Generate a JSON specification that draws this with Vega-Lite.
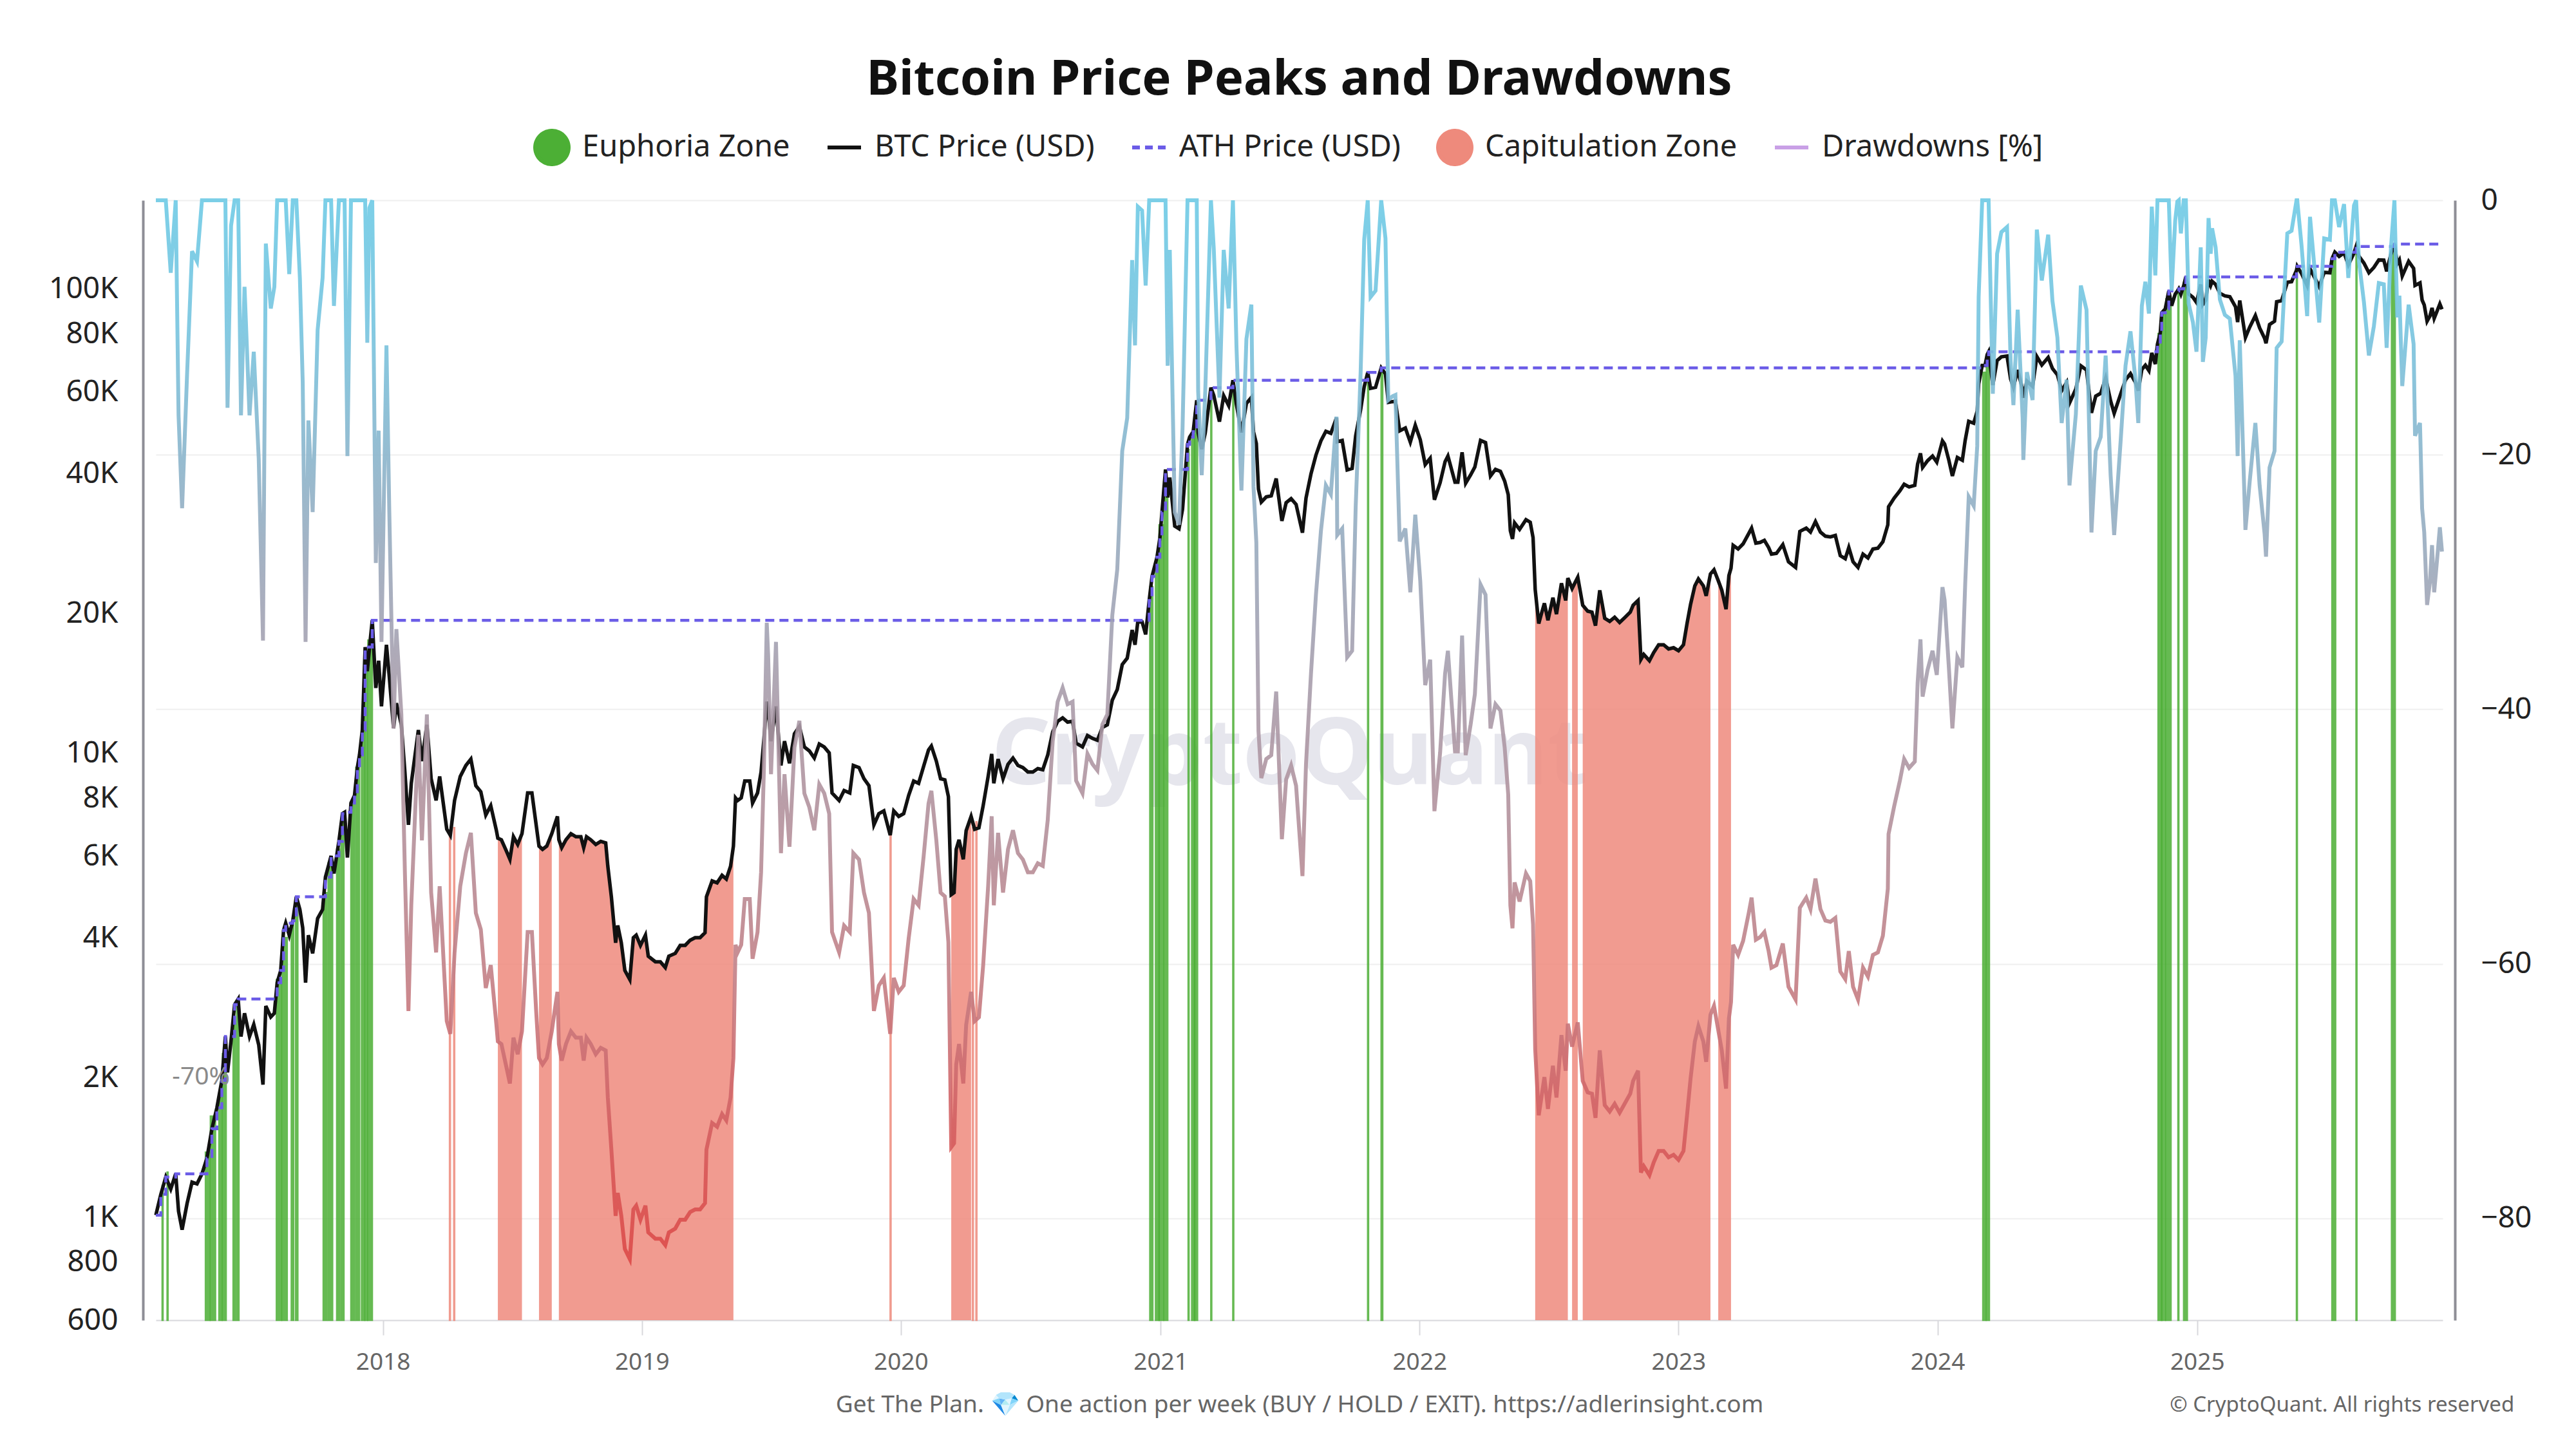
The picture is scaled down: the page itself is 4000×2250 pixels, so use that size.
{
"$schema": "https://vega.github.io/schema/vega-lite/v6.json",
"width": 3551, "height": 1739,
"autosize": {"type": "none"},
"padding": {"left": 242, "top": 311, "right": 207, "bottom": 200},
"background": "white",
"config": {"font": "Noto Sans", "view": {"stroke": null}},
"title": {"text": "Bitcoin Price Peaks and Drawdowns", "fontSize": 76, "fontWeight": "bold", "color": "#111111", "anchor": "middle", "frame": "group", "offset": 21},
"datasets": {
"btc": [
{"d":"2017-02-15","p":1010,"a":1010,"r":0},
{"d":"2017-02-22","p":1120,"a":1120,"r":0},
{"d":"2017-03-01","p":1220,"a":1220,"r":0},
{"d":"2017-03-08","p":1150,"a":1220,"r":-5.7},
{"d":"2017-03-15","p":1240,"a":1240,"r":0},
{"d":"2017-03-19","p":1030,"a":1240,"r":-16.9},
{"d":"2017-03-24","p":940,"a":1240,"r":-24.2},
{"d":"2017-03-31","p":1070,"a":1240,"r":-13.7},
{"d":"2017-04-07","p":1190,"a":1240,"r":-4},
{"d":"2017-04-14","p":1180,"a":1240,"r":-4.8},
{"d":"2017-04-21","p":1240,"a":1240,"r":0},
{"d":"2017-04-28","p":1340,"a":1340,"r":0},
{"d":"2017-05-05","p":1550,"a":1550,"r":0},
{"d":"2017-05-12","p":1720,"a":1720,"r":0},
{"d":"2017-05-19","p":1970,"a":1970,"r":0},
{"d":"2017-05-24","p":2450,"a":2450,"r":0},
{"d":"2017-05-27","p":2050,"a":2450,"r":-16.3},
{"d":"2017-06-01","p":2400,"a":2450,"r":-2},
{"d":"2017-06-06","p":2870,"a":2870,"r":0},
{"d":"2017-06-11","p":2950,"a":2950,"r":0},
{"d":"2017-06-15","p":2450,"a":2950,"r":-16.9},
{"d":"2017-06-20","p":2750,"a":2950,"r":-6.8},
{"d":"2017-06-27","p":2450,"a":2950,"r":-16.9},
{"d":"2017-07-03","p":2600,"a":2950,"r":-11.9},
{"d":"2017-07-10","p":2350,"a":2950,"r":-20.3},
{"d":"2017-07-16","p":1930,"a":2950,"r":-34.6},
{"d":"2017-07-20","p":2850,"a":2950,"r":-3.4},
{"d":"2017-07-27","p":2700,"a":2950,"r":-8.5},
{"d":"2017-08-01","p":2750,"a":2950,"r":-6.8},
{"d":"2017-08-05","p":3200,"a":3200,"r":0},
{"d":"2017-08-10","p":3400,"a":3400,"r":0},
{"d":"2017-08-14","p":4150,"a":4150,"r":0},
{"d":"2017-08-17","p":4300,"a":4300,"r":0},
{"d":"2017-08-22","p":4050,"a":4300,"r":-5.8},
{"d":"2017-08-27","p":4350,"a":4350,"r":0},
{"d":"2017-09-01","p":4900,"a":4900,"r":0},
{"d":"2017-09-06","p":4600,"a":4900,"r":-6.1},
{"d":"2017-09-10","p":4200,"a":4900,"r":-14.3},
{"d":"2017-09-14","p":3200,"a":4900,"r":-34.7},
{"d":"2017-09-18","p":4050,"a":4900,"r":-17.3},
{"d":"2017-09-24","p":3700,"a":4900,"r":-24.5},
{"d":"2017-10-01","p":4400,"a":4900,"r":-10.2},
{"d":"2017-10-08","p":4600,"a":4900,"r":-6.1},
{"d":"2017-10-12","p":5400,"a":5400,"r":0},
{"d":"2017-10-20","p":6000,"a":6000,"r":0},
{"d":"2017-10-24","p":5500,"a":6000,"r":-8.3},
{"d":"2017-10-31","p":6450,"a":6450,"r":0},
{"d":"2017-11-05","p":7400,"a":7400,"r":0},
{"d":"2017-11-08","p":7450,"a":7450,"r":0},
{"d":"2017-11-12","p":5950,"a":7450,"r":-20.1},
{"d":"2017-11-17","p":7800,"a":7800,"r":0},
{"d":"2017-11-22","p":8100,"a":8100,"r":0},
{"d":"2017-11-26","p":9300,"a":9300,"r":0},
{"d":"2017-11-29","p":9900,"a":9900,"r":0},
{"d":"2017-12-03","p":11200,"a":11200,"r":0},
{"d":"2017-12-07","p":16900,"a":16900,"r":0},
{"d":"2017-12-10","p":15000,"a":16900,"r":-11.2},
{"d":"2017-12-13","p":16800,"a":16900,"r":-0.6},
{"d":"2017-12-17","p":19300,"a":19300,"r":0},
{"d":"2017-12-22","p":13800,"a":19300,"r":-28.5},
{"d":"2017-12-26","p":15800,"a":19300,"r":-18.1},
{"d":"2017-12-30","p":12600,"a":19300,"r":-34.7},
{"d":"2018-01-06","p":17100,"a":19300,"r":-11.4},
{"d":"2018-01-10","p":14600,"a":19300,"r":-24.4},
{"d":"2018-01-16","p":11300,"a":19300,"r":-41.5},
{"d":"2018-01-20","p":12800,"a":19300,"r":-33.7},
{"d":"2018-01-27","p":11500,"a":19300,"r":-40.4},
{"d":"2018-02-01","p":9100,"a":19300,"r":-52.8},
{"d":"2018-02-06","p":7000,"a":19300,"r":-63.7},
{"d":"2018-02-10","p":8600,"a":19300,"r":-55.4},
{"d":"2018-02-20","p":11200,"a":19300,"r":-42},
{"d":"2018-02-25","p":9600,"a":19300,"r":-50.3},
{"d":"2018-03-04","p":11500,"a":19300,"r":-40.4},
{"d":"2018-03-10","p":8800,"a":19300,"r":-54.4},
{"d":"2018-03-17","p":7900,"a":19300,"r":-59.1},
{"d":"2018-03-22","p":8900,"a":19300,"r":-53.9},
{"d":"2018-04-01","p":6850,"a":19300,"r":-64.5},
{"d":"2018-04-06","p":6650,"a":19300,"r":-65.5},
{"d":"2018-04-12","p":7900,"a":19300,"r":-59.1},
{"d":"2018-04-20","p":8900,"a":19300,"r":-53.9},
{"d":"2018-04-28","p":9400,"a":19300,"r":-51.3},
{"d":"2018-05-05","p":9700,"a":19300,"r":-49.7},
{"d":"2018-05-12","p":8500,"a":19300,"r":-56},
{"d":"2018-05-19","p":8250,"a":19300,"r":-57.3},
{"d":"2018-05-26","p":7350,"a":19300,"r":-61.9},
{"d":"2018-06-02","p":7700,"a":19300,"r":-60.1},
{"d":"2018-06-10","p":6800,"a":19300,"r":-64.8},
{"d":"2018-06-12","p":6550,"a":19300,"r":-66.1,"c":"c1"},
{"d":"2018-06-17","p":6500,"a":19300,"r":-66.3,"c":"c1"},
{"d":"2018-06-24","p":6150,"a":19300,"r":-68.1,"c":"c1"},
{"d":"2018-06-29","p":5900,"a":19300,"r":-69.4,"c":"c1"},
{"d":"2018-07-04","p":6600,"a":19300,"r":-65.8,"c":"c1"},
{"d":"2018-07-10","p":6350,"a":19300,"r":-67.1,"c":"c1"},
{"d":"2018-07-16","p":6700,"a":19300,"r":-65.3,"c":"c1"},
{"d":"2018-07-24","p":8200,"a":19300,"r":-57.5},
{"d":"2018-07-30","p":8200,"a":19300,"r":-57.5},
{"d":"2018-08-05","p":7000,"a":19300,"r":-63.7},
{"d":"2018-08-09","p":6300,"a":19300,"r":-67.4,"c":"c2"},
{"d":"2018-08-14","p":6200,"a":19300,"r":-67.9,"c":"c2"},
{"d":"2018-08-20","p":6300,"a":19300,"r":-67.4,"c":"c2"},
{"d":"2018-08-27","p":6700,"a":19300,"r":-65.3,"c":"c2"},
{"d":"2018-08-31","p":7000,"a":19300,"r":-63.7},
{"d":"2018-09-04","p":7300,"a":19300,"r":-62.2},
{"d":"2018-09-06","p":6500,"a":19300,"r":-66.3,"c":"c3"},
{"d":"2018-09-10","p":6250,"a":19300,"r":-67.6,"c":"c3"},
{"d":"2018-09-16","p":6500,"a":19300,"r":-66.3,"c":"c3"},
{"d":"2018-09-23","p":6700,"a":19300,"r":-65.3,"c":"c3"},
{"d":"2018-09-30","p":6600,"a":19300,"r":-65.8,"c":"c3"},
{"d":"2018-10-07","p":6600,"a":19300,"r":-65.8,"c":"c3"},
{"d":"2018-10-11","p":6250,"a":19300,"r":-67.6,"c":"c3"},
{"d":"2018-10-15","p":6600,"a":19300,"r":-65.8,"c":"c3"},
{"d":"2018-10-21","p":6500,"a":19300,"r":-66.3,"c":"c3"},
{"d":"2018-10-28","p":6350,"a":19300,"r":-67.1,"c":"c3"},
{"d":"2018-11-04","p":6450,"a":19300,"r":-66.6,"c":"c3"},
{"d":"2018-11-11","p":6400,"a":19300,"r":-66.8,"c":"c3"},
{"d":"2018-11-14","p":5700,"a":19300,"r":-70.5,"c":"c3"},
{"d":"2018-11-19","p":4900,"a":19300,"r":-74.6,"c":"c3"},
{"d":"2018-11-25","p":3900,"a":19300,"r":-79.8,"c":"c3"},
{"d":"2018-11-28","p":4250,"a":19300,"r":-78,"c":"c3"},
{"d":"2018-12-03","p":3900,"a":19300,"r":-79.8,"c":"c3"},
{"d":"2018-12-08","p":3400,"a":19300,"r":-82.4,"c":"c3"},
{"d":"2018-12-15","p":3250,"a":19300,"r":-83.2,"c":"c3"},
{"d":"2018-12-20","p":4000,"a":19300,"r":-79.3,"c":"c3"},
{"d":"2018-12-24","p":4050,"a":19300,"r":-79,"c":"c3"},
{"d":"2018-12-30","p":3850,"a":19300,"r":-80.1,"c":"c3"},
{"d":"2019-01-06","p":4050,"a":19300,"r":-79,"c":"c3"},
{"d":"2019-01-10","p":3650,"a":19300,"r":-81.1,"c":"c3"},
{"d":"2019-01-20","p":3550,"a":19300,"r":-81.6,"c":"c3"},
{"d":"2019-01-27","p":3550,"a":19300,"r":-81.6,"c":"c3"},
{"d":"2019-02-03","p":3450,"a":19300,"r":-82.1,"c":"c3"},
{"d":"2019-02-08","p":3650,"a":19300,"r":-81.1,"c":"c3"},
{"d":"2019-02-17","p":3700,"a":19300,"r":-80.8,"c":"c3"},
{"d":"2019-02-24","p":3850,"a":19300,"r":-80.1,"c":"c3"},
{"d":"2019-03-03","p":3850,"a":19300,"r":-80.1,"c":"c3"},
{"d":"2019-03-10","p":3950,"a":19300,"r":-79.5,"c":"c3"},
{"d":"2019-03-17","p":4000,"a":19300,"r":-79.3,"c":"c3"},
{"d":"2019-03-24","p":4000,"a":19300,"r":-79.3,"c":"c3"},
{"d":"2019-03-31","p":4100,"a":19300,"r":-78.8,"c":"c3"},
{"d":"2019-04-02","p":4900,"a":19300,"r":-74.6,"c":"c3"},
{"d":"2019-04-10","p":5300,"a":19300,"r":-72.5,"c":"c3"},
{"d":"2019-04-17","p":5250,"a":19300,"r":-72.8,"c":"c3"},
{"d":"2019-04-24","p":5450,"a":19300,"r":-71.8,"c":"c3"},
{"d":"2019-04-30","p":5350,"a":19300,"r":-72.3,"c":"c3"},
{"d":"2019-05-06","p":5700,"a":19300,"r":-70.5,"c":"c3"},
{"d":"2019-05-10","p":6300,"a":19300,"r":-67.4,"c":"c3"},
{"d":"2019-05-13","p":8000,"a":19300,"r":-58.5},
{"d":"2019-05-16","p":7900,"a":19300,"r":-59.1},
{"d":"2019-05-21","p":8000,"a":19300,"r":-58.5},
{"d":"2019-05-26","p":8700,"a":19300,"r":-54.9},
{"d":"2019-06-02","p":8700,"a":19300,"r":-54.9},
{"d":"2019-06-06","p":7800,"a":19300,"r":-59.6},
{"d":"2019-06-13","p":8200,"a":19300,"r":-57.5},
{"d":"2019-06-18","p":9100,"a":19300,"r":-52.8},
{"d":"2019-06-22","p":10700,"a":19300,"r":-44.6},
{"d":"2019-06-26","p":12900,"a":19300,"r":-33.2},
{"d":"2019-06-28","p":12400,"a":19300,"r":-35.8},
{"d":"2019-07-02","p":10600,"a":19300,"r":-45.1},
{"d":"2019-07-09","p":12600,"a":19300,"r":-34.7},
{"d":"2019-07-16","p":9400,"a":19300,"r":-51.3},
{"d":"2019-07-21","p":10600,"a":19300,"r":-45.1},
{"d":"2019-07-28","p":9500,"a":19300,"r":-50.8},
{"d":"2019-08-04","p":11000,"a":19300,"r":-43},
{"d":"2019-08-11","p":11400,"a":19300,"r":-40.9},
{"d":"2019-08-18","p":10300,"a":19300,"r":-46.6},
{"d":"2019-08-25","p":10100,"a":19300,"r":-47.7},
{"d":"2019-09-01","p":9750,"a":19300,"r":-49.5},
{"d":"2019-09-08","p":10450,"a":19300,"r":-45.9},
{"d":"2019-09-15","p":10300,"a":19300,"r":-46.6},
{"d":"2019-09-22","p":10000,"a":19300,"r":-48.2},
{"d":"2019-09-26","p":8200,"a":19300,"r":-57.5},
{"d":"2019-10-06","p":7900,"a":19300,"r":-59.1},
{"d":"2019-10-13","p":8300,"a":19300,"r":-57},
{"d":"2019-10-21","p":8200,"a":19300,"r":-57.5},
{"d":"2019-10-26","p":9400,"a":19300,"r":-51.3},
{"d":"2019-11-03","p":9300,"a":19300,"r":-51.8},
{"d":"2019-11-10","p":8800,"a":19300,"r":-54.4},
{"d":"2019-11-17","p":8500,"a":19300,"r":-56},
{"d":"2019-11-24","p":7000,"a":19300,"r":-63.7},
{"d":"2019-12-01","p":7400,"a":19300,"r":-61.7},
{"d":"2019-12-08","p":7500,"a":19300,"r":-61.1},
{"d":"2019-12-17","p":6650,"a":19300,"r":-65.5},
{"d":"2019-12-22","p":7500,"a":19300,"r":-61.1},
{"d":"2019-12-29","p":7300,"a":19300,"r":-62.2},
{"d":"2020-01-05","p":7400,"a":19300,"r":-61.7},
{"d":"2020-01-12","p":8100,"a":19300,"r":-58},
{"d":"2020-01-19","p":8700,"a":19300,"r":-54.9},
{"d":"2020-01-26","p":8600,"a":19300,"r":-55.4},
{"d":"2020-02-02","p":9350,"a":19300,"r":-51.6},
{"d":"2020-02-09","p":10150,"a":19300,"r":-47.4},
{"d":"2020-02-13","p":10350,"a":19300,"r":-46.4},
{"d":"2020-02-20","p":9600,"a":19300,"r":-50.3},
{"d":"2020-02-26","p":8800,"a":19300,"r":-54.4},
{"d":"2020-03-03","p":8750,"a":19300,"r":-54.7},
{"d":"2020-03-08","p":8050,"a":19300,"r":-58.3},
{"d":"2020-03-12","p":4950,"a":19300,"r":-74.4,"c":"c4"},
{"d":"2020-03-16","p":5000,"a":19300,"r":-74.1,"c":"c4"},
{"d":"2020-03-19","p":6200,"a":19300,"r":-67.9,"c":"c4"},
{"d":"2020-03-23","p":6500,"a":19300,"r":-66.3,"c":"c4"},
{"d":"2020-03-29","p":5900,"a":19300,"r":-69.4,"c":"c4"},
{"d":"2020-04-02","p":6800,"a":19300,"r":-64.8,"c":"c4"},
{"d":"2020-04-09","p":7300,"a":19300,"r":-62.2,"c":"c4"},
{"d":"2020-04-14","p":6850,"a":19300,"r":-64.5},
{"d":"2020-04-20","p":6900,"a":19300,"r":-64.2},
{"d":"2020-04-26","p":7700,"a":19300,"r":-60.1},
{"d":"2020-05-03","p":8900,"a":19300,"r":-53.9},
{"d":"2020-05-08","p":9950,"a":19300,"r":-48.4},
{"d":"2020-05-11","p":8600,"a":19300,"r":-55.4},
{"d":"2020-05-17","p":9700,"a":19300,"r":-49.7},
{"d":"2020-05-24","p":8800,"a":19300,"r":-54.4},
{"d":"2020-05-31","p":9450,"a":19300,"r":-51},
{"d":"2020-06-07","p":9750,"a":19300,"r":-49.5},
{"d":"2020-06-14","p":9400,"a":19300,"r":-51.3},
{"d":"2020-06-21","p":9300,"a":19300,"r":-51.8},
{"d":"2020-06-28","p":9100,"a":19300,"r":-52.8},
{"d":"2020-07-05","p":9100,"a":19300,"r":-52.8},
{"d":"2020-07-12","p":9250,"a":19300,"r":-52.1},
{"d":"2020-07-19","p":9200,"a":19300,"r":-52.3},
{"d":"2020-07-26","p":9900,"a":19300,"r":-48.7},
{"d":"2020-08-02","p":11100,"a":19300,"r":-42.5},
{"d":"2020-08-09","p":11700,"a":19300,"r":-39.4},
{"d":"2020-08-16","p":11900,"a":19300,"r":-38.3},
{"d":"2020-08-23","p":11650,"a":19300,"r":-39.6},
{"d":"2020-08-30","p":11700,"a":19300,"r":-39.4},
{"d":"2020-09-04","p":10500,"a":19300,"r":-45.6},
{"d":"2020-09-13","p":10300,"a":19300,"r":-46.6},
{"d":"2020-09-20","p":10900,"a":19300,"r":-43.5},
{"d":"2020-09-27","p":10750,"a":19300,"r":-44.3},
{"d":"2020-10-04","p":10650,"a":19300,"r":-44.8},
{"d":"2020-10-11","p":11350,"a":19300,"r":-41.2},
{"d":"2020-10-18","p":11500,"a":19300,"r":-40.4},
{"d":"2020-10-25","p":13000,"a":19300,"r":-32.6},
{"d":"2020-11-01","p":13700,"a":19300,"r":-29},
{"d":"2020-11-08","p":15500,"a":19300,"r":-19.7},
{"d":"2020-11-15","p":16000,"a":19300,"r":-17.1},
{"d":"2020-11-22","p":18400,"a":19300,"r":-4.7},
{"d":"2020-11-26","p":17100,"a":19300,"r":-11.4},
{"d":"2020-11-30","p":19200,"a":19300,"r":-0.5},
{"d":"2020-12-06","p":19150,"a":19300,"r":-0.8},
{"d":"2020-12-11","p":18000,"a":19300,"r":-6.7},
{"d":"2020-12-16","p":21300,"a":21300,"r":0},
{"d":"2020-12-20","p":24000,"a":24000,"r":0},
{"d":"2020-12-27","p":26400,"a":26400,"r":0},
{"d":"2020-12-31","p":29000,"a":29000,"r":0},
{"d":"2021-01-03","p":33000,"a":33000,"r":0},
{"d":"2021-01-08","p":40800,"a":40800,"r":0},
{"d":"2021-01-11","p":35500,"a":40800,"r":-13},
{"d":"2021-01-14","p":39200,"a":40800,"r":-3.9},
{"d":"2021-01-21","p":30800,"a":40800,"r":-24.5},
{"d":"2021-01-27","p":30400,"a":40800,"r":-25.5},
{"d":"2021-02-01","p":33500,"a":40800,"r":-17.9},
{"d":"2021-02-08","p":46200,"a":46200,"r":0},
{"d":"2021-02-11","p":47900,"a":47900,"r":0},
{"d":"2021-02-16","p":49200,"a":49200,"r":0},
{"d":"2021-02-21","p":57500,"a":57500,"r":0},
{"d":"2021-02-23","p":48900,"a":57500,"r":-15},
{"d":"2021-02-28","p":45100,"a":57500,"r":-21.6},
{"d":"2021-03-05","p":48900,"a":57500,"r":-15},
{"d":"2021-03-13","p":61200,"a":61200,"r":0},
{"d":"2021-03-17","p":58900,"a":61200,"r":-3.8},
{"d":"2021-03-25","p":51700,"a":61200,"r":-15.5},
{"d":"2021-03-31","p":58800,"a":61200,"r":-3.9},
{"d":"2021-04-07","p":56000,"a":61200,"r":-8.5},
{"d":"2021-04-13","p":63500,"a":63500,"r":0},
{"d":"2021-04-18","p":56200,"a":63500,"r":-11.5},
{"d":"2021-04-25","p":49000,"a":63500,"r":-22.8},
{"d":"2021-05-02","p":56600,"a":63500,"r":-10.9},
{"d":"2021-05-09","p":58300,"a":63500,"r":-8.2},
{"d":"2021-05-12","p":49200,"a":63500,"r":-22.5},
{"d":"2021-05-16","p":46400,"a":63500,"r":-26.9},
{"d":"2021-05-19","p":37000,"a":63500,"r":-41.7},
{"d":"2021-05-23","p":34700,"a":63500,"r":-45.4},
{"d":"2021-05-30","p":35600,"a":63500,"r":-43.9},
{"d":"2021-06-06","p":35800,"a":63500,"r":-43.6},
{"d":"2021-06-13","p":39000,"a":63500,"r":-38.6},
{"d":"2021-06-21","p":31600,"a":63500,"r":-50.2},
{"d":"2021-06-27","p":34600,"a":63500,"r":-45.5},
{"d":"2021-07-04","p":35300,"a":63500,"r":-44.4},
{"d":"2021-07-11","p":34300,"a":63500,"r":-46},
{"d":"2021-07-20","p":29800,"a":63500,"r":-53.1},
{"d":"2021-07-25","p":35400,"a":63500,"r":-44.3},
{"d":"2021-08-01","p":39900,"a":63500,"r":-37.2},
{"d":"2021-08-08","p":43800,"a":63500,"r":-31},
{"d":"2021-08-15","p":47000,"a":63500,"r":-26},
{"d":"2021-08-22","p":49300,"a":63500,"r":-22.4},
{"d":"2021-08-29","p":48800,"a":63500,"r":-23.1},
{"d":"2021-09-06","p":52700,"a":63500,"r":-17},
{"d":"2021-09-07","p":46800,"a":63500,"r":-26.3},
{"d":"2021-09-14","p":47100,"a":63500,"r":-25.8},
{"d":"2021-09-21","p":40700,"a":63500,"r":-35.9},
{"d":"2021-09-28","p":41000,"a":63500,"r":-35.4},
{"d":"2021-10-03","p":48200,"a":63500,"r":-24.1},
{"d":"2021-10-10","p":54900,"a":63500,"r":-13.5},
{"d":"2021-10-15","p":61500,"a":63500,"r":-3.1},
{"d":"2021-10-20","p":66000,"a":66000,"r":0},
{"d":"2021-10-24","p":61000,"a":66000,"r":-7.6},
{"d":"2021-10-31","p":61300,"a":66000,"r":-7.1},
{"d":"2021-11-08","p":67500,"a":67500,"r":0},
{"d":"2021-11-14","p":65500,"a":67500,"r":-3},
{"d":"2021-11-18","p":56900,"a":67500,"r":-15.7},
{"d":"2021-11-24","p":57100,"a":67500,"r":-15.4},
{"d":"2021-11-28","p":57200,"a":67500,"r":-15.3},
{"d":"2021-12-04","p":49400,"a":67500,"r":-26.8},
{"d":"2021-12-12","p":50100,"a":67500,"r":-25.8},
{"d":"2021-12-19","p":46700,"a":67500,"r":-30.8},
{"d":"2021-12-26","p":50800,"a":67500,"r":-24.7},
{"d":"2022-01-02","p":47300,"a":67500,"r":-29.9},
{"d":"2022-01-09","p":41800,"a":67500,"r":-38.1},
{"d":"2022-01-16","p":43100,"a":67500,"r":-36.1},
{"d":"2022-01-22","p":35100,"a":67500,"r":-48},
{"d":"2022-01-30","p":38200,"a":67500,"r":-43.4},
{"d":"2022-02-06","p":42400,"a":67500,"r":-37.2},
{"d":"2022-02-10","p":43600,"a":67500,"r":-35.4},
{"d":"2022-02-20","p":38300,"a":67500,"r":-43.3},
{"d":"2022-02-24","p":38300,"a":67500,"r":-43.3},
{"d":"2022-03-02","p":44400,"a":67500,"r":-34.2},
{"d":"2022-03-07","p":38100,"a":67500,"r":-43.6},
{"d":"2022-03-14","p":39700,"a":67500,"r":-41.2},
{"d":"2022-03-20","p":41300,"a":67500,"r":-38.8},
{"d":"2022-03-28","p":47100,"a":67500,"r":-30.2},
{"d":"2022-04-04","p":46600,"a":67500,"r":-31},
{"d":"2022-04-11","p":39500,"a":67500,"r":-41.5},
{"d":"2022-04-18","p":40800,"a":67500,"r":-39.6},
{"d":"2022-04-25","p":40400,"a":67500,"r":-40.1},
{"d":"2022-05-01","p":38500,"a":67500,"r":-43},
{"d":"2022-05-06","p":36000,"a":67500,"r":-46.7},
{"d":"2022-05-09","p":30100,"a":67500,"r":-55.4},
{"d":"2022-05-12","p":28900,"a":67500,"r":-57.2},
{"d":"2022-05-15","p":31300,"a":67500,"r":-53.6},
{"d":"2022-05-22","p":30300,"a":67500,"r":-55.1},
{"d":"2022-05-31","p":31800,"a":67500,"r":-52.9},
{"d":"2022-06-06","p":31400,"a":67500,"r":-53.5},
{"d":"2022-06-10","p":29100,"a":67500,"r":-56.9},
{"d":"2022-06-13","p":22500,"a":67500,"r":-66.7,"c":"c5"},
{"d":"2022-06-18","p":19000,"a":67500,"r":-71.9,"c":"c5"},
{"d":"2022-06-22","p":20000,"a":67500,"r":-70.4,"c":"c5"},
{"d":"2022-06-26","p":21000,"a":67500,"r":-68.9,"c":"c5"},
{"d":"2022-07-01","p":19300,"a":67500,"r":-71.4,"c":"c5"},
{"d":"2022-07-08","p":21600,"a":67500,"r":-68,"c":"c5"},
{"d":"2022-07-13","p":19900,"a":67500,"r":-70.5,"c":"c5"},
{"d":"2022-07-20","p":23200,"a":67500,"r":-65.6,"c":"c5"},
{"d":"2022-07-26","p":21300,"a":67500,"r":-68.4,"c":"c5"},
{"d":"2022-07-29","p":23800,"a":67500,"r":-64.7,"c":"c5"},
{"d":"2022-08-04","p":22600,"a":67500,"r":-66.5,"c":"c6"},
{"d":"2022-08-12","p":23900,"a":67500,"r":-64.6,"c":"c6"},
{"d":"2022-08-19","p":20800,"a":67500,"r":-69.2,"c":"c7"},
{"d":"2022-08-26","p":20200,"a":67500,"r":-70.1,"c":"c7"},
{"d":"2022-09-01","p":20100,"a":67500,"r":-70.2,"c":"c7"},
{"d":"2022-09-06","p":18800,"a":67500,"r":-72.1,"c":"c7"},
{"d":"2022-09-12","p":22400,"a":67500,"r":-66.8,"c":"c7"},
{"d":"2022-09-19","p":19500,"a":67500,"r":-71.1,"c":"c7"},
{"d":"2022-09-26","p":19200,"a":67500,"r":-71.6,"c":"c7"},
{"d":"2022-10-03","p":19600,"a":67500,"r":-71,"c":"c7"},
{"d":"2022-10-10","p":19100,"a":67500,"r":-71.7,"c":"c7"},
{"d":"2022-10-17","p":19550,"a":67500,"r":-71,"c":"c7"},
{"d":"2022-10-25","p":20100,"a":67500,"r":-70.2,"c":"c7"},
{"d":"2022-10-29","p":20800,"a":67500,"r":-69.2,"c":"c7"},
{"d":"2022-11-05","p":21300,"a":67500,"r":-68.4,"c":"c7"},
{"d":"2022-11-09","p":15900,"a":67500,"r":-76.4,"c":"c7"},
{"d":"2022-11-13","p":16300,"a":67500,"r":-75.9,"c":"c7"},
{"d":"2022-11-21","p":15800,"a":67500,"r":-76.6,"c":"c7"},
{"d":"2022-11-27","p":16450,"a":67500,"r":-75.6,"c":"c7"},
{"d":"2022-12-04","p":17100,"a":67500,"r":-74.7,"c":"c7"},
{"d":"2022-12-11","p":17100,"a":67500,"r":-74.7,"c":"c7"},
{"d":"2022-12-18","p":16750,"a":67500,"r":-75.2,"c":"c7"},
{"d":"2022-12-25","p":16850,"a":67500,"r":-75,"c":"c7"},
{"d":"2023-01-01","p":16600,"a":67500,"r":-75.4,"c":"c7"},
{"d":"2023-01-08","p":17100,"a":67500,"r":-74.7,"c":"c7"},
{"d":"2023-01-13","p":19000,"a":67500,"r":-71.9,"c":"c7"},
{"d":"2023-01-18","p":20900,"a":67500,"r":-69,"c":"c7"},
{"d":"2023-01-24","p":22900,"a":67500,"r":-66.1,"c":"c7"},
{"d":"2023-01-29","p":23700,"a":67500,"r":-64.9,"c":"c7"},
{"d":"2023-02-05","p":22900,"a":67500,"r":-66.1,"c":"c7"},
{"d":"2023-02-09","p":21800,"a":67500,"r":-67.7,"c":"c7"},
{"d":"2023-02-15","p":24300,"a":67500,"r":-64,"c":"c7"},
{"d":"2023-02-20","p":24800,"a":67500,"r":-63.3},
{"d":"2023-02-26","p":23500,"a":67500,"r":-65.2,"c":"c8"},
{"d":"2023-03-03","p":22400,"a":67500,"r":-66.8,"c":"c8"},
{"d":"2023-03-09","p":20400,"a":67500,"r":-69.8,"c":"c8"},
{"d":"2023-03-13","p":24100,"a":67500,"r":-64.3,"c":"c8"},
{"d":"2023-03-16","p":25000,"a":67500,"r":-63,"c":"c8"},
{"d":"2023-03-19","p":28000,"a":67500,"r":-58.5},
{"d":"2023-03-26","p":27500,"a":67500,"r":-59.3},
{"d":"2023-04-02","p":28200,"a":67500,"r":-58.2},
{"d":"2023-04-10","p":29700,"a":67500,"r":-56},
{"d":"2023-04-14","p":30500,"a":67500,"r":-54.8},
{"d":"2023-04-20","p":28300,"a":67500,"r":-58.1},
{"d":"2023-04-26","p":28400,"a":67500,"r":-57.9},
{"d":"2023-05-02","p":28700,"a":67500,"r":-57.5},
{"d":"2023-05-08","p":27700,"a":67500,"r":-59},
{"d":"2023-05-12","p":26800,"a":67500,"r":-60.3},
{"d":"2023-05-19","p":26900,"a":67500,"r":-60.1},
{"d":"2023-05-28","p":28100,"a":67500,"r":-58.4},
{"d":"2023-06-05","p":25800,"a":67500,"r":-61.8},
{"d":"2023-06-15","p":25100,"a":67500,"r":-62.8},
{"d":"2023-06-21","p":30000,"a":67500,"r":-55.6},
{"d":"2023-06-30","p":30500,"a":67500,"r":-54.8},
{"d":"2023-07-06","p":29900,"a":67500,"r":-55.7},
{"d":"2023-07-13","p":31500,"a":67500,"r":-53.3},
{"d":"2023-07-20","p":29900,"a":67500,"r":-55.7},
{"d":"2023-07-27","p":29300,"a":67500,"r":-56.6},
{"d":"2023-08-03","p":29200,"a":67500,"r":-56.7},
{"d":"2023-08-10","p":29400,"a":67500,"r":-56.4},
{"d":"2023-08-17","p":26600,"a":67500,"r":-60.6},
{"d":"2023-08-24","p":26200,"a":67500,"r":-61.2},
{"d":"2023-08-29","p":27700,"a":67500,"r":-59},
{"d":"2023-09-04","p":25800,"a":67500,"r":-61.8},
{"d":"2023-09-11","p":25100,"a":67500,"r":-62.8},
{"d":"2023-09-18","p":26800,"a":67500,"r":-60.3},
{"d":"2023-09-25","p":26300,"a":67500,"r":-61},
{"d":"2023-10-02","p":27500,"a":67500,"r":-59.3},
{"d":"2023-10-09","p":27600,"a":67500,"r":-59.1},
{"d":"2023-10-16","p":28500,"a":67500,"r":-57.8},
{"d":"2023-10-23","p":31000,"a":67500,"r":-54.1},
{"d":"2023-10-24","p":33900,"a":67500,"r":-49.8},
{"d":"2023-11-01","p":35400,"a":67500,"r":-47.6},
{"d":"2023-11-09","p":36700,"a":67500,"r":-45.6},
{"d":"2023-11-15","p":37900,"a":67500,"r":-43.9},
{"d":"2023-11-22","p":37400,"a":67500,"r":-44.6},
{"d":"2023-11-30","p":37700,"a":67500,"r":-44.1},
{"d":"2023-12-04","p":41900,"a":67500,"r":-37.9},
{"d":"2023-12-08","p":44200,"a":67500,"r":-34.5},
{"d":"2023-12-11","p":41200,"a":67500,"r":-39},
{"d":"2023-12-18","p":42600,"a":67500,"r":-36.9},
{"d":"2023-12-25","p":43600,"a":67500,"r":-35.4},
{"d":"2023-12-31","p":42300,"a":67500,"r":-37.3},
{"d":"2024-01-08","p":47000,"a":67500,"r":-30.4},
{"d":"2024-01-11","p":46300,"a":67500,"r":-31.4},
{"d":"2024-01-17","p":42700,"a":67500,"r":-36.7},
{"d":"2024-01-22","p":39500,"a":67500,"r":-41.5},
{"d":"2024-01-29","p":43300,"a":67500,"r":-35.9},
{"d":"2024-02-05","p":42700,"a":67500,"r":-36.7},
{"d":"2024-02-09","p":47100,"a":67500,"r":-30.2},
{"d":"2024-02-14","p":51800,"a":67500,"r":-23.3},
{"d":"2024-02-21","p":51300,"a":67500,"r":-24},
{"d":"2024-02-26","p":54500,"a":67500,"r":-19.3},
{"d":"2024-02-28","p":62400,"a":67500,"r":-7.6},
{"d":"2024-03-04","p":68300,"a":68300,"r":0},
{"d":"2024-03-08","p":68300,"a":68300,"r":0},
{"d":"2024-03-11","p":72100,"a":72100,"r":0},
{"d":"2024-03-13","p":73100,"a":73100,"r":0},
{"d":"2024-03-19","p":62000,"a":73100,"r":-15.2},
{"d":"2024-03-25","p":70000,"a":73100,"r":-4.2},
{"d":"2024-03-31","p":71300,"a":73100,"r":-2.5},
{"d":"2024-04-08","p":71600,"a":73100,"r":-2.1},
{"d":"2024-04-13","p":63900,"a":73100,"r":-12.6},
{"d":"2024-04-17","p":61300,"a":73100,"r":-16.1},
{"d":"2024-04-23","p":66800,"a":73100,"r":-8.6},
{"d":"2024-04-30","p":60600,"a":73100,"r":-17.1},
{"d":"2024-05-01","p":58200,"a":73100,"r":-20.4},
{"d":"2024-05-06","p":63200,"a":73100,"r":-13.5},
{"d":"2024-05-14","p":61600,"a":73100,"r":-15.7},
{"d":"2024-05-20","p":71400,"a":73100,"r":-2.3},
{"d":"2024-05-27","p":68500,"a":73100,"r":-6.3},
{"d":"2024-06-05","p":71100,"a":73100,"r":-2.7},
{"d":"2024-06-11","p":67300,"a":73100,"r":-7.9},
{"d":"2024-06-18","p":65200,"a":73100,"r":-10.8},
{"d":"2024-06-24","p":60300,"a":73100,"r":-17.5},
{"d":"2024-07-01","p":62800,"a":73100,"r":-14.1},
{"d":"2024-07-05","p":56700,"a":73100,"r":-22.4},
{"d":"2024-07-14","p":60800,"a":73100,"r":-16.8},
{"d":"2024-07-21","p":68200,"a":73100,"r":-6.7},
{"d":"2024-07-29","p":66800,"a":73100,"r":-8.6},
{"d":"2024-08-05","p":54000,"a":73100,"r":-26.1},
{"d":"2024-08-11","p":58700,"a":73100,"r":-19.7},
{"d":"2024-08-18","p":59500,"a":73100,"r":-18.6},
{"d":"2024-08-25","p":64200,"a":73100,"r":-12.2},
{"d":"2024-09-01","p":57300,"a":73100,"r":-21.6},
{"d":"2024-09-06","p":53900,"a":73100,"r":-26.3},
{"d":"2024-09-15","p":59200,"a":73100,"r":-19},
{"d":"2024-09-22","p":63600,"a":73100,"r":-13},
{"d":"2024-09-29","p":65600,"a":73100,"r":-10.3},
{"d":"2024-10-06","p":62800,"a":73100,"r":-14.1},
{"d":"2024-10-10","p":60300,"a":73100,"r":-17.5},
{"d":"2024-10-15","p":67000,"a":73100,"r":-8.3},
{"d":"2024-10-20","p":68400,"a":73100,"r":-6.4},
{"d":"2024-10-25","p":66600,"a":73100,"r":-8.9},
{"d":"2024-10-29","p":72700,"a":73100,"r":-0.5},
{"d":"2024-11-03","p":68800,"a":73100,"r":-5.9},
{"d":"2024-11-06","p":75900,"a":75900,"r":0},
{"d":"2024-11-10","p":80400,"a":80400,"r":0},
{"d":"2024-11-12","p":88700,"a":88700,"r":0},
{"d":"2024-11-17","p":90500,"a":90500,"r":0},
{"d":"2024-11-22","p":98900,"a":98900,"r":0},
{"d":"2024-11-26","p":91900,"a":98900,"r":-7.1},
{"d":"2024-12-01","p":97300,"a":98900,"r":-1.6},
{"d":"2024-12-04","p":98800,"a":98900,"r":-0.1},
{"d":"2024-12-06","p":99900,"a":99900,"r":0},
{"d":"2024-12-09","p":97300,"a":99900,"r":-2.6},
{"d":"2024-12-13","p":101500,"a":101500,"r":0},
{"d":"2024-12-16","p":106000,"a":106000,"r":0},
{"d":"2024-12-20","p":97400,"a":106000,"r":-8.1},
{"d":"2024-12-26","p":95800,"a":106000,"r":-9.6},
{"d":"2024-12-31","p":93400,"a":106000,"r":-11.9},
{"d":"2025-01-06","p":102100,"a":106000,"r":-3.7},
{"d":"2025-01-09","p":92500,"a":106000,"r":-12.7},
{"d":"2025-01-13","p":94500,"a":106000,"r":-10.8},
{"d":"2025-01-17","p":104500,"a":106000,"r":-1.4},
{"d":"2025-01-20","p":101600,"a":106000,"r":-4.2},
{"d":"2025-01-22","p":103700,"a":106000,"r":-2.2},
{"d":"2025-01-27","p":102100,"a":106000,"r":-3.7},
{"d":"2025-02-02","p":97700,"a":106000,"r":-7.8},
{"d":"2025-02-09","p":96500,"a":106000,"r":-9},
{"d":"2025-02-16","p":96100,"a":106000,"r":-9.3},
{"d":"2025-02-24","p":91400,"a":106000,"r":-13.8},
{"d":"2025-02-27","p":84700,"a":106000,"r":-20.1},
{"d":"2025-03-02","p":94300,"a":106000,"r":-11},
{"d":"2025-03-10","p":78500,"a":106000,"r":-25.9},
{"d":"2025-03-16","p":82600,"a":106000,"r":-22.1},
{"d":"2025-03-24","p":87500,"a":106000,"r":-17.5},
{"d":"2025-03-30","p":82300,"a":106000,"r":-22.4},
{"d":"2025-04-06","p":78200,"a":106000,"r":-26.2},
{"d":"2025-04-08","p":76300,"a":106000,"r":-28},
{"d":"2025-04-13","p":83700,"a":106000,"r":-21},
{"d":"2025-04-20","p":85100,"a":106000,"r":-19.7},
{"d":"2025-04-23","p":93700,"a":106000,"r":-11.6},
{"d":"2025-04-30","p":94200,"a":106000,"r":-11.1},
{"d":"2025-05-08","p":103200,"a":106000,"r":-2.6},
{"d":"2025-05-14","p":103500,"a":106000,"r":-2.4},
{"d":"2025-05-21","p":109600,"a":109600,"r":0},
{"d":"2025-05-22","p":111700,"a":111700,"r":0},
{"d":"2025-05-28","p":107800,"a":111700,"r":-3.5},
{"d":"2025-06-05","p":101500,"a":111700,"r":-9.1},
{"d":"2025-06-09","p":110300,"a":111700,"r":-1.3},
{"d":"2025-06-17","p":104600,"a":111700,"r":-6.4},
{"d":"2025-06-22","p":101000,"a":111700,"r":-9.6},
{"d":"2025-06-29","p":108400,"a":111700,"r":-3},
{"d":"2025-07-07","p":108200,"a":111700,"r":-3.1},
{"d":"2025-07-10","p":116000,"a":116000,"r":0},
{"d":"2025-07-14","p":119800,"a":119800,"r":0},
{"d":"2025-07-20","p":117300,"a":119800,"r":-2.1},
{"d":"2025-07-27","p":119400,"a":119800,"r":-0.3},
{"d":"2025-08-02","p":112500,"a":119800,"r":-6.1},
{"d":"2025-08-10","p":119300,"a":119800,"r":-0.4},
{"d":"2025-08-13","p":123300,"a":123300,"r":0},
{"d":"2025-08-17","p":117400,"a":123300,"r":-4.8},
{"d":"2025-08-24","p":113500,"a":123300,"r":-8},
{"d":"2025-08-31","p":108200,"a":123300,"r":-12.2},
{"d":"2025-09-07","p":111100,"a":123300,"r":-9.9},
{"d":"2025-09-14","p":115300,"a":123300,"r":-6.5},
{"d":"2025-09-21","p":115200,"a":123300,"r":-6.6},
{"d":"2025-09-25","p":109000,"a":123300,"r":-11.6},
{"d":"2025-10-01","p":118600,"a":123300,"r":-3.8},
{"d":"2025-10-06","p":124700,"a":124700,"r":0},
{"d":"2025-10-10","p":113200,"a":124700,"r":-9.2},
{"d":"2025-10-13","p":115300,"a":124700,"r":-7.5},
{"d":"2025-10-17","p":106500,"a":124700,"r":-14.6},
{"d":"2025-10-26","p":114500,"a":124700,"r":-8.2},
{"d":"2025-11-02","p":110600,"a":124700,"r":-11.3},
{"d":"2025-11-04","p":101600,"a":124700,"r":-18.5},
{"d":"2025-11-11","p":102900,"a":124700,"r":-17.5},
{"d":"2025-11-14","p":94500,"a":124700,"r":-24.2},
{"d":"2025-11-17","p":92200,"a":124700,"r":-26.1},
{"d":"2025-11-21","p":85100,"a":124700,"r":-31.8},
{"d":"2025-11-25","p":87300,"a":124700,"r":-30},
{"d":"2025-11-28","p":90900,"a":124700,"r":-27.1},
{"d":"2025-12-01","p":86300,"a":124700,"r":-30.8},
{"d":"2025-12-05","p":89400,"a":124700,"r":-28.3},
{"d":"2025-12-09","p":92700,"a":124700,"r":-25.7},
{"d":"2025-12-12","p":90300,"a":124700,"r":-27.6}
],
"zones": [
{"t":"Euphoria Zone","s":"2017-02-24","e":"2017-02-25","p":1170},
{"t":"Euphoria Zone","s":"2017-03-03","e":"2017-03-04","p":1250},
{"t":"Euphoria Zone","s":"2017-04-26","e":"2017-05-02","p":1380},
{"t":"Euphoria Zone","s":"2017-05-03","e":"2017-05-10","p":1650},
{"t":"Euphoria Zone","s":"2017-05-15","e":"2017-05-19","p":1850},
{"t":"Euphoria Zone","s":"2017-05-20","e":"2017-05-25","p":2250},
{"t":"Euphoria Zone","s":"2017-06-04","e":"2017-06-07","p":2600},
{"t":"Euphoria Zone","s":"2017-06-09","e":"2017-06-12","p":2850},
{"t":"Euphoria Zone","s":"2017-08-04","e":"2017-08-11","p":3250},
{"t":"Euphoria Zone","s":"2017-08-12","e":"2017-08-19","p":4000},
{"t":"Euphoria Zone","s":"2017-08-25","e":"2017-08-28","p":4300},
{"t":"Euphoria Zone","s":"2017-08-31","e":"2017-09-03","p":4700},
{"t":"Euphoria Zone","s":"2017-10-09","e":"2017-10-14","p":5000},
{"t":"Euphoria Zone","s":"2017-10-16","e":"2017-10-22","p":5800},
{"t":"Euphoria Zone","s":"2017-10-28","e":"2017-11-01","p":6200},
{"t":"Euphoria Zone","s":"2017-11-03","e":"2017-11-07","p":7200},
{"t":"Euphoria Zone","s":"2017-11-17","e":"2017-11-22","p":7800},
{"t":"Euphoria Zone","s":"2017-11-24","e":"2017-11-29","p":9300},
{"t":"Euphoria Zone","s":"2017-12-02","e":"2017-12-06","p":11500},
{"t":"Euphoria Zone","s":"2017-12-07","e":"2017-12-10","p":15500},
{"t":"Euphoria Zone","s":"2017-12-11","e":"2017-12-17","p":17500},
{"t":"Euphoria Zone","s":"2020-12-17","e":"2020-12-21","p":22800},
{"t":"Euphoria Zone","s":"2020-12-25","e":"2020-12-30","p":26000},
{"t":"Euphoria Zone","s":"2020-12-30","e":"2021-01-05","p":31000},
{"t":"Euphoria Zone","s":"2021-01-06","e":"2021-01-11","p":37500},
{"t":"Euphoria Zone","s":"2021-02-09","e":"2021-02-10","p":45000},
{"t":"Euphoria Zone","s":"2021-02-14","e":"2021-02-18","p":48500},
{"t":"Euphoria Zone","s":"2021-02-18","e":"2021-02-22","p":54000},
{"t":"Euphoria Zone","s":"2021-03-13","e":"2021-03-14","p":60000},
{"t":"Euphoria Zone","s":"2021-04-13","e":"2021-04-14","p":63000},
{"t":"Euphoria Zone","s":"2021-10-20","e":"2021-10-21","p":65000},
{"t":"Euphoria Zone","s":"2021-11-08","e":"2021-11-10","p":66500},
{"t":"Euphoria Zone","s":"2024-03-05","e":"2024-03-09","p":66000},
{"t":"Euphoria Zone","s":"2024-03-10","e":"2024-03-14","p":71500},
{"t":"Euphoria Zone","s":"2024-11-07","e":"2024-11-12","p":80000},
{"t":"Euphoria Zone","s":"2024-11-12","e":"2024-11-17","p":89000},
{"t":"Euphoria Zone","s":"2024-11-18","e":"2024-11-25","p":95000},
{"t":"Euphoria Zone","s":"2024-12-05","e":"2024-12-06","p":98000},
{"t":"Euphoria Zone","s":"2024-12-13","e":"2024-12-18","p":103000},
{"t":"Euphoria Zone","s":"2025-05-21","e":"2025-05-22","p":109500},
{"t":"Euphoria Zone","s":"2025-07-10","e":"2025-07-15","p":117000},
{"t":"Euphoria Zone","s":"2025-08-13","e":"2025-08-14","p":122000},
{"t":"Euphoria Zone","s":"2025-10-02","e":"2025-10-07","p":121000},
{"t":"Capitulation Zone","s":"2018-04-05","e":"2018-04-06","p":6700},
{"t":"Capitulation Zone","s":"2018-04-11","e":"2018-04-12","p":6900},
{"t":"Capitulation Zone","s":"2019-12-17","e":"2019-12-18","p":6650},
{"t":"Capitulation Zone","s":"2020-04-11","e":"2020-04-12","p":6900},
{"t":"Capitulation Zone","s":"2020-04-16","e":"2020-04-17","p":7100}
]
},
"layer": [
{
"layer": [
{
"data": {"values": [{}]},
"mark": {"type": "text", "fontSize": 143, "fontWeight": "bold", "color": "#dcdce6", "opacity": 0.7, "align": "center", "baseline": "middle"},
"encoding": {
"x": {"datum": {"year": 2021, "month": 7, "date": 2}, "type": "temporal"},
"y": {"datum": 9800, "type": "quantitative", "title": null},
"text": {"value": "CryptoQuant"}
}
},
{
"data": {"name": "btc"},
"transform": [{"filter": "datum.c"}],
"mark": {"type": "area", "opacity": 0.85},
"encoding": {
"x": {"field": "d", "type": "temporal"},
"y": {"field": "p", "type": "quantitative", "title": null},
"y2": {"datum": 600},
"detail": {"field": "c"},
"color": {"datum": "Capitulation Zone"}
}
},
{
"data": {"name": "zones"},
"mark": {"type": "rect", "opacity": 0.85, "strokeWidth": 2.5},
"encoding": {
"x": {"field": "s", "type": "temporal"},
"x2": {"field": "e"},
"y": {"field": "p", "type": "quantitative", "title": null},
"y2": {"datum": 600},
"color": {"field": "t", "type": "nominal"},
"stroke": {"field": "t", "type": "nominal", "scale": {"domain": ["Euphoria Zone", "Capitulation Zone"], "range": ["#4caf35", "#ee8a7c"]}, "legend": null}
}
},
{
"data": {"name": "btc"},
"mark": {"type": "line", "strokeWidth": 5.5},
"encoding": {
"x": {"field": "d", "type": "temporal",
"scale": {"domain": [{"year": 2017, "month": 2, "date": 15}, {"year": 2025, "month": 12, "date": 13}]},
"axis": {"format": "%Y", "tickCount": {"interval": "year", "step": 1}, "grid": false, "domainColor": "#d8d8dc", "domainWidth": 2, "tickColor": "#d8d8dc", "tickSize": 23, "tickWidth": 2, "labelFontSize": 37, "labelColor": "#666666", "labelPadding": 24, "labelFlush": false,
"title": "Get The Plan. 💎 One action per week (BUY / HOLD / EXIT). https://adlerinsight.com", "titleFontSize": 37, "titleFontWeight": "normal", "titleColor": "#666666", "titlePadding": 30}},
"y": {"field": "p", "type": "quantitative", "title": null,
"scale": {"type": "log", "domain": [600, 155000], "nice": false},
"axis": {"orient": "left", "offset": 20, "values": [600, 800, 1000, 2000, 4000, 6000, 8000, 10000, 20000, 40000, 60000, 80000, 100000],
"labelExpr": "datum.value >= 1000 ? format(datum.value / 1000, 'd') + 'K' : format(datum.value, 'd')",
"labelFontSize": 46, "labelColor": "#222222", "ticks": false, "tickSize": 0, "labelPadding": 39, "domainColor": "#8e8e96", "domainWidth": 4, "grid": false, "labelFlush": false, "labelOverlap": false}},
"color": {"datum": "BTC Price (USD)",
"scale": {"domain": ["Euphoria Zone", "BTC Price (USD)", "ATH Price (USD)", "Capitulation Zone", "Drawdowns [%]"], "range": ["#4caf35", "#111111", "#6b5ce7", "#ee8a7c", "#c9a0e6"]},
"legend": {"orient": "none", "legendX": 586, "legendY": -127, "direction": "horizontal", "title": null, "titleOpacity": 0, "padding": 0,
"labelFontSize": 47, "labelColor": "#222222", "labelLimit": 2000, "symbolSize": 2700, "labelOffset": 18, "columnPadding": 46,
"encode": {"symbols": {"update": {
"shape": {"signal": "datum.value === 'Euphoria Zone' || datum.value === 'Capitulation Zone' ? 'circle' : 'M-1,-1M-1,0L1,0M1,1'"},
"fill": {"signal": "datum.value === 'Euphoria Zone' ? '#6cc25d' : datum.value === 'Capitulation Zone' ? '#f5a89f' : 'transparent'"},
"stroke": {"signal": "datum.value === 'BTC Price (USD)' ? '#111111' : datum.value === 'ATH Price (USD)' ? '#6b5ce7' : datum.value === 'Drawdowns [%]' ? '#c9a0e6' : 'transparent'"},
"strokeDash": {"signal": "datum.value === 'ATH Price (USD)' ? [12, 8] : [1, 0]"},
"strokeWidth": {"value": 6},
"opacity": {"value": 1},
"fillOpacity": {"value": 1},
"strokeOpacity": {"value": 1}
}}}}}
}
},
{
"data": {"name": "btc"},
"mark": {"type": "line", "strokeWidth": 4.5, "strokeDash": [14, 8], "interpolate": "step-after"},
"encoding": {
"x": {"field": "d", "type": "temporal"},
"y": {"field": "a", "type": "quantitative", "title": null},
"color": {"datum": "ATH Price (USD)"}
}
},
{
"data": {"values": [{}]},
"mark": {"type": "text", "align": "right", "baseline": "middle", "fontSize": 33, "color": "#666666"},
"encoding": {
"x": {"datum": {"year": 2026, "month": 3, "date": 24}, "type": "temporal"},
"y": {"datum": 394, "type": "quantitative", "title": null},
"text": {"value": "© CryptoQuant. All rights reserved"}
}
}
]
},
{
"layer": [
{
"data": {"name": "btc"},
"mark": {"type": "line", "strokeWidth": 6, "opacity": 0.9,
"stroke": {"gradient": "linear", "x1": 0, "y1": 0, "x2": 0, "y2": 1, "stops": [
{"offset": 0, "color": "#6ecae5"},
{"offset": 0.12, "color": "#76c4df"},
{"offset": 0.24, "color": "#8ab5cc"},
{"offset": 0.36, "color": "#9ea7b9"},
{"offset": 0.5, "color": "#ac99a6"},
{"offset": 0.62, "color": "#b68e98"},
{"offset": 0.74, "color": "#c47e84"},
{"offset": 0.84, "color": "#d0676a"},
{"offset": 0.92, "color": "#d85656"},
{"offset": 1, "color": "#dc4a48"}]}},
"encoding": {
"x": {"field": "d", "type": "temporal"},
"y": {"field": "r", "type": "quantitative", "title": null,
"scale": {"domain": [-88, 0], "nice": false, "zero": false},
"axis": {"orient": "right", "offset": 19, "values": [0, -20, -40, -60, -80], "labelFontSize": 46, "labelColor": "#222222", "ticks": false, "tickSize": 0, "labelPadding": 40, "labelAlign": "left", "domainColor": "#8e8e96", "domainWidth": 4, "grid": true, "gridColor": "#efefef", "gridWidth": 2, "labelFlush": false}}
}
},
{
"mark": {"type": "rule", "color": "#e05c5c", "strokeWidth": 3, "strokeDash": [14, 10]},
"encoding": {"y": {"datum": -70, "type": "quantitative", "title": null}}
},
{
"data": {"values": [{}]},
"mark": {"type": "text", "align": "left", "baseline": "bottom", "dy": -2, "fontSize": 39, "color": "#8a8a8a"},
"encoding": {
"x": {"datum": {"year": 2017, "month": 3, "date": 10}, "type": "temporal"},
"y": {"datum": -70, "type": "quantitative", "title": null},
"text": {"value": "-70%"}
}
}
]
}
],
"resolve": {"scale": {"y": "independent"}}
}
